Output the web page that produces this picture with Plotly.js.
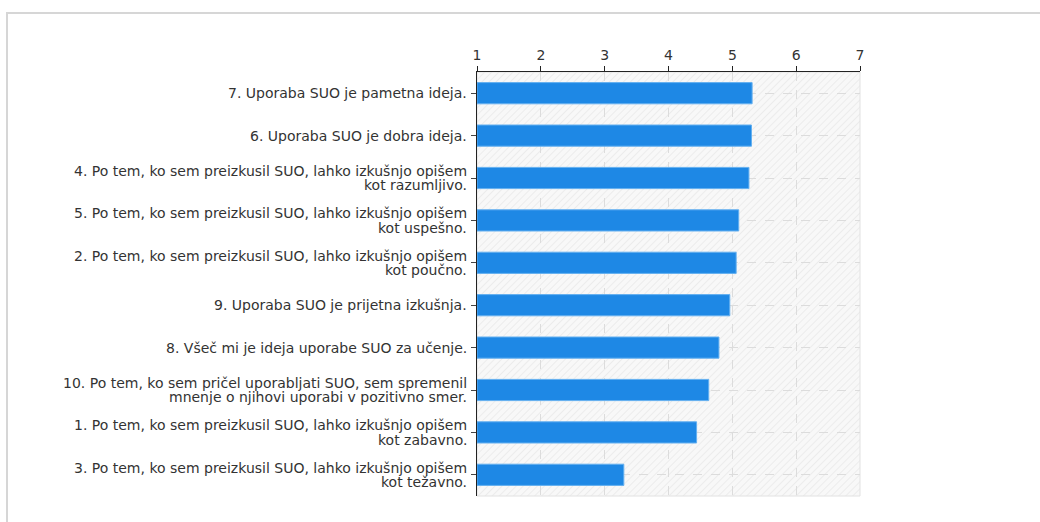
<!DOCTYPE html>
<html>
<head>
<meta charset="utf-8">
<script src="https://cdn.plot.ly/plotly-3.0.1.min.js"></script>
<style>
  html, body { margin: 0; padding: 0; background: #fff; }
  #wrap { position: relative; width: 1040px; height: 522px; overflow: hidden; }
  #chart { position: absolute; left: 0; top: 0; width: 1040px; height: 522px; }
  #frame { position: absolute; left: 6px; top: 12px; width: 1100px; height: 600px;
           border-left: 2px solid #d6d6d6; border-top: 2px solid #d6d6d6; pointer-events: none; z-index: 5; }
</style>
</head>
<body>
<div id="wrap">
  <div id="chart"></div>
  <div id="frame"></div>
</div>
<script>
const categories = [
  "7. Uporaba SUO je pametna ideja.",
  "6. Uporaba SUO je dobra ideja.",
  "4. Po tem, ko sem preizkusil SUO, lahko izkušnjo opišem<br>kot razumljivo.",
  "5. Po tem, ko sem preizkusil SUO, lahko izkušnjo opišem<br>kot uspešno.",
  "2. Po tem, ko sem preizkusil SUO, lahko izkušnjo opišem<br>kot poučno.",
  "9. Uporaba SUO je prijetna izkušnja.",
  "8. Všeč mi je ideja uporabe SUO za učenje.",
  "10. Po tem, ko sem pričel uporabljati SUO, sem spremenil<br>mnenje o njihovi uporabi v pozitivno smer.",
  "1. Po tem, ko sem preizkusil SUO, lahko izkušnjo opišem<br>kot zabavno.",
  "3. Po tem, ko sem preizkusil SUO, lahko izkušnjo opišem<br>kot težavno."
];
const values = [5.31, 5.30, 5.26, 5.10, 5.06, 4.96, 4.79, 4.63, 4.44, 3.30];
const axisMin = 1;
const axisMax = 7;
const tickValues = [1, 2, 3, 4, 5, 6, 7];

// hatched background for the plot area (styling only)
const hatchSvg =
  '<svg xmlns="http://www.w3.org/2000/svg" width="383" height="424">' +
  '<defs><pattern id="h" width="5" height="5" patternUnits="userSpaceOnUse" patternTransform="rotate(45)">' +
  '<rect width="5" height="5" fill="#f8f8f8"/>' +
  '<line x1="0" y1="0" x2="0" y2="5" stroke="#e9e9e9" stroke-width="1.6"/>' +
  '</pattern></defs>' +
  '<rect width="383" height="424" fill="url(#h)"/></svg>';
const hatchUri = 'data:image/svg+xml;base64,' + btoa(hatchSvg);

const trace = {
  type: 'bar',
  orientation: 'h',
  y: categories,
  x: values.map(v => v - axisMin),
  base: axisMin,
  width: 0.5,
  marker: { color: '#1e88e5', line: { color: '#64b0f0', width: 1 } },
  hoverinfo: 'x+y'
};

// category labels, drawn line by line with tight leading
const labelFont = { family: 'DejaVu Sans, Verdana, sans-serif', size: 14, color: '#333333' };
const lineGap = 14.5;
const labelAnnotations = [];
categories.forEach(cat => {
  const lines = cat.split('<br>');
  const n = lines.length;
  lines.forEach((line, i) => {
    labelAnnotations.push({
      xref: 'paper', yref: 'y',
      x: 0, y: cat,
      xanchor: 'right', yanchor: 'middle',
      xshift: -9,
      yshift: ((n - 1) / 2 - i) * lineGap,
      text: line,
      showarrow: false,
      borderpad: 0,
      align: 'right',
      font: labelFont
    });
  });
});

const layout = {
  width: 1040,
  height: 522,
  margin: { l: 477, r: 180, t: 72, b: 26, pad: 0 },
  paper_bgcolor: '#ffffff',
  plot_bgcolor: 'rgba(0,0,0,0)',
  font: { family: 'DejaVu Sans, Verdana, sans-serif', size: 13, color: '#333333' },
  showlegend: false,
  bargap: 0.5,
  xaxis: {
    side: 'top',
    range: [axisMin, axisMax],
    tickvals: tickValues,
    ticktext: tickValues.map(String),
    showline: true, linecolor: '#222222', linewidth: 1,
    ticks: 'outside', ticklen: 5, tickcolor: '#222222', tickwidth: 1,
    showgrid: true, gridcolor: '#dcdcdc', griddash: 'dash', gridwidth: 1,
    zeroline: false,
    tickfont: { size: 14, color: '#333333' },
    fixedrange: true
  },
  yaxis: {
    type: 'category',
    autorange: 'reversed',
    showline: true, linecolor: '#222222', linewidth: 1,
    ticks: 'outside', ticklen: 5, tickcolor: '#444444', tickwidth: 1,
    showgrid: true, gridcolor: '#dcdcdc', griddash: 'dash', gridwidth: 1,
    zeroline: false,
    showticklabels: false,
    fixedrange: true
  },
  annotations: labelAnnotations,
  images: [{
    source: hatchUri,
    xref: 'paper', yref: 'paper',
    x: 0, y: 1, sizex: 1, sizey: 1,
    xanchor: 'left', yanchor: 'top',
    sizing: 'stretch', layer: 'below'
  }],
  shapes: [{
    type: 'rect', xref: 'paper', yref: 'paper',
    x0: 0, x1: 1, y0: 0, y1: 1,
    line: { color: '#e2e2e2', width: 1 },
    layer: 'below'
  }]
};

Plotly.newPlot('chart', [trace], layout, { displayModeBar: false, staticPlot: true });
</script>
</body>
</html>
